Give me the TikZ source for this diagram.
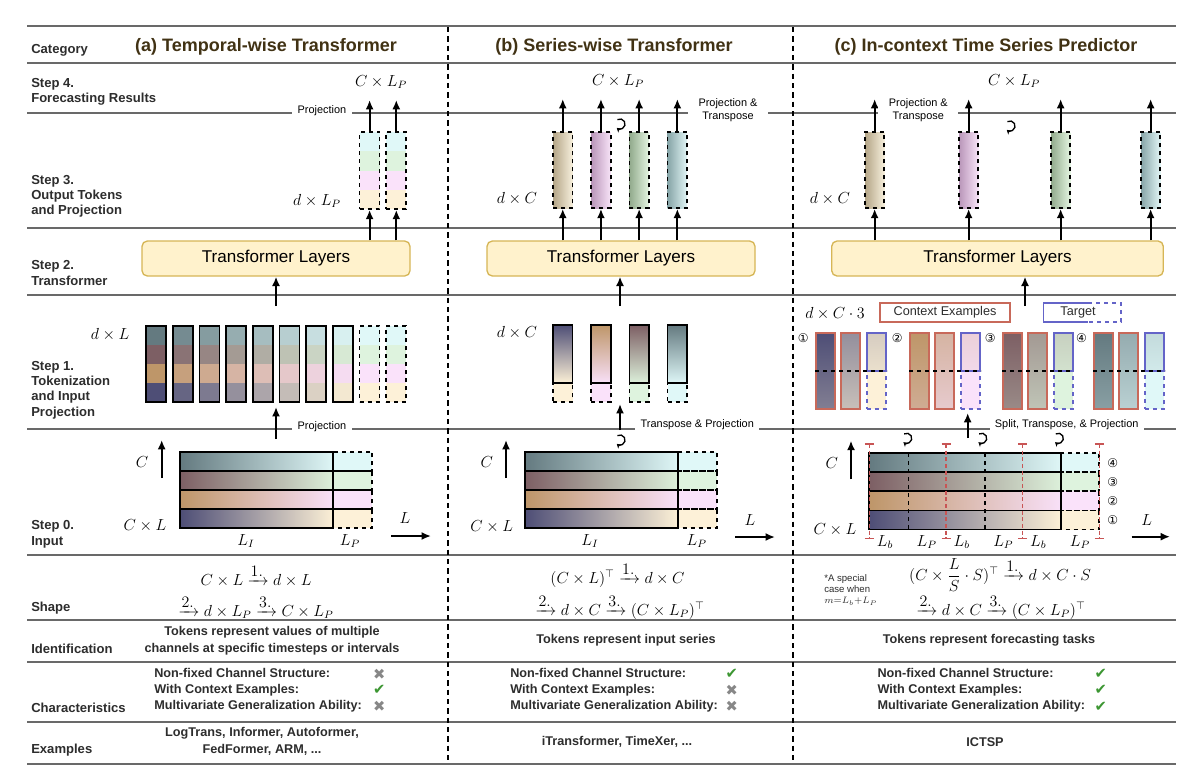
\documentclass[tikz,border=0pt]{standalone}
\usepackage{amsmath}
\usepackage{fontspec}
\setmainfont{Liberation Sans}
\newfontfamily\dejavu{DejaVu Sans}
\usetikzlibrary{arrows.meta,calc}
\definecolor{titlec}{RGB}{65,50,20}
\definecolor{labc}{RGB}{45,45,45}
\definecolor{rulec}{RGB}{105,105,105}
\definecolor{tfill}{RGB}{255,242,204}
\definecolor{tdraw}{RGB}{214,182,86}
\definecolor{aS}{RGB}{100,122,128}
\definecolor{aE}{RGB}{222,246,246}
\definecolor{bS}{RGB}{125,95,100}
\definecolor{bE}{RGB}{220,240,218}
\definecolor{cS}{RGB}{190,150,105}
\definecolor{cE}{RGB}{248,224,248}
\definecolor{dS}{RGB}{78,78,118}
\definecolor{dE}{RGB}{252,240,214}
\definecolor{aP}{RGB}{224,248,248}
\definecolor{bP}{RGB}{222,243,222}
\definecolor{cP}{RGB}{250,226,250}
\definecolor{dP}{RGB}{253,241,216}
\definecolor{o1S}{RGB}{180,165,135}
\definecolor{o1E}{RGB}{246,239,220}
\definecolor{o2S}{RGB}{185,150,185}
\definecolor{o2E}{RGB}{248,228,248}
\definecolor{o3S}{RGB}{145,170,140}
\definecolor{o3E}{RGB}{228,245,225}
\definecolor{o4S}{RGB}{135,165,168}
\definecolor{o4E}{RGB}{225,245,245}
\definecolor{ctxr}{RGB}{200,105,90}
\definecolor{tgtb}{RGB}{100,100,200}
\definecolor{redd}{RGB}{200,85,85}
\definecolor{chk}{RGB}{60,150,50}
\definecolor{crs}{RGB}{135,135,135}
\newcommand{\drawbar}[4]{%
  \shade[left color=aS,right color=aE] (#1,#4) rectangle (#2,#4+19.15);
  \shade[left color=bS,right color=bE] (#1,#4+19.15) rectangle (#2,#4+38.3);
  \shade[left color=cS,right color=cE] (#1,#4+38.3) rectangle (#2,#4+57.45);
  \shade[left color=dS,right color=dE] (#1,#4+57.45) rectangle (#2,#4+76.6);
  \fill[aP] (#2,#4) rectangle (#3,#4+19.15);
  \fill[bP] (#2,#4+19.15) rectangle (#3,#4+38.3);
  \fill[cP] (#2,#4+38.3) rectangle (#3,#4+57.45);
  \fill[dP] (#2,#4+57.45) rectangle (#3,#4+76.6);
  \foreach \k in {0,1,2,3}{%
    \draw[line width=1.3pt,dashed] (#2,#4+19.15*\k) rectangle (#3,#4+19.15*\k+19.15);
    \draw[line width=1.3pt] (#1,#4+19.15*\k) rectangle (#2,#4+19.15*\k+19.15);
  }%
}
\newcommand{\rotsym}[1]{\draw[line width=1pt,-{Stealth[length=3.2pt,width=4pt]}] (#1) ++(120:3.8pt) arc[start angle=120,end angle=-130,radius=3.8pt];}
\begin{document}
\begin{tikzpicture}[x=0.75pt,y=-0.75pt,
  rowlab/.style={font=\fontsize{9.8}{11.6}\selectfont\bfseries, text=labc, anchor=west, align=left, inner sep=0pt},
  title/.style={font=\fontsize{13.5}{16}\selectfont\bfseries, text=titlec},
  tfm/.style={draw=tdraw, fill=tfill, rounded corners=4pt, line width=1pt, font=\fontsize{12.8}{15}\selectfont, inner sep=0pt},
  smlab/.style={font=\fontsize{8.2}{9.8}\selectfont, fill=white, inner xsep=4pt, inner ysep=2.5pt, align=center},
  mathlab/.style={font=\fontsize{12}{13}\selectfont, inner sep=0pt},
  shapelab/.style={font=\fontsize{12}{14}\selectfont, inner sep=0pt},
  bodytxt/.style={font=\fontsize{9.5}{12.5}\selectfont\bfseries, text=labc, inner sep=0pt, align=center},
  chartxt/.style={font=\fontsize{9.5}{12.2}\selectfont\bfseries, text=labc, inner sep=0pt, align=left, anchor=west},
  chkmark/.style={font=\dejavu\fontsize{11}{12}\selectfont, inner sep=0pt},
  circnum/.style={font=\dejavu\fontsize{9}{11}\selectfont, inner sep=0pt},
  arr/.style={-{Latex[length=7pt,width=6pt]}, line width=1.4pt},
  rule/.style={draw=rulec, line width=1.2pt},
  sep/.style={dash pattern=on 4pt off 3pt, line width=1.1pt},
  tok/.style={draw, line width=1.3pt, inner sep=0pt},
  dtok/.style={tok, dashed},
  ctxcol/.style={draw=ctxr, line width=1.3pt, inner sep=0pt, minimum width=14.25pt, minimum height=57pt},
  tgttop/.style={draw=tgtb, line width=1.3pt, inner sep=0pt, minimum width=14.25pt, minimum height=28.5pt},
  tgtbot/.style={tgttop, dashed}]
\useasboundingbox (0,0) rectangle (1189,775);
\fill[white] (0,0) rectangle (1189,775);
% horizontal rules and column separators
\foreach \yy in {26,63,113,228,295,429,555,620,662,722,764}{\draw[rule] (27,\yy) -- (1176,\yy);}
\draw[sep] (448,27) -- (448,763);
\draw[sep] (793,27) -- (793,763);
% row labels
\node[rowlab] (lcat) at (31,50) {Category};
\node[rowlab] (l4) at (31,92) {Step 4.\\Forecasting Results};
\node[rowlab] (l3) at (31,196.3) {Step 3.\\Output Tokens\\and Projection};
\node[rowlab] (l2) at (31,273) {Step 2.\\Transformer};
\node[rowlab] (l1) at (31,390) {Step 1.\\Tokenization\\and Input\\Projection};
\node[rowlab] (l0) at (31,534.3) {Step 0.\\Input};
\node[rowlab] (lsh) at (31,607.7) {Shape};
\node[rowlab] (lid) at (31,649.3) {Identification};
\node[rowlab] (lch) at (31,708) {Characteristics};
\node[rowlab] (lex) at (31,750) {Examples};
% titles
\node[title] (ta) at (266,47) {(a) Temporal-wise Transformer};
\node[title] (tb) at (614,47) {(b) Series-wise Transformer};
\node[title] (tc) at (986,47) {(c) In-context Time Series Predictor};
% transformer boxes
\node[tfm, minimum width=201pt, minimum height=26.25pt] (tfa) at (276,258.5) {Transformer Layers};
\node[tfm, minimum width=201pt, minimum height=26.25pt] (tfb) at (621,258.5) {Transformer Layers};
\node[tfm, minimum width=248.7pt, minimum height=26.25pt] (tfc) at (997.5,258.5) {Transformer Layers};

% ================= (a) =================
\foreach \i in {0,...,7}{
  \pgfmathsetmacro\xl{146+26.7*\i}
  \pgfmathtruncatemacro\p{round(95*\i/7)}
  \fill[aE!\p!aS] (\xl,326) rectangle ++(20,19);
  \fill[bE!\p!bS] (\xl,345) rectangle ++(20,19);
  \fill[cE!\p!cS] (\xl,364) rectangle ++(20,19);
  \fill[dE!\p!dS] (\xl,383) rectangle ++(20,19);
  \node[tok, minimum width=15pt, minimum height=57pt] (sa\i) at (\xl+10,364) {};
}
\foreach \i in {8,9}{
  \pgfmathsetmacro\xl{146+26.7*\i}
  \fill[aP] (\xl,326) rectangle ++(20,19);
  \fill[bP] (\xl,345) rectangle ++(20,19);
  \fill[cP] (\xl,364) rectangle ++(20,19);
  \fill[dP] (\xl,383) rectangle ++(20,19);
  \node[dtok, minimum width=15pt, minimum height=57pt] (sa\i) at (\xl+10,364) {};
}
\foreach \i/\xl in {0/359.6,1/386.3}{
  \fill[aP] (\xl,132) rectangle ++(20,19.25);
  \fill[bP] (\xl,151.25) rectangle ++(20,19.25);
  \fill[cP] (\xl,170.5) rectangle ++(20,19.25);
  \fill[dP] (\xl,189.75) rectangle ++(20,19.25);
  \node[dtok, minimum width=15pt, minimum height=57.75pt] (oa\i) at (\xl+10,170.5) {};
  \coordinate (pa\i) at (\xl+10,100);
  \draw[arr] (oa\i.north) -- (pa\i);
  \draw[arr] (tfa.north -| oa\i) -- (oa\i.south);
}
\node[smlab] (proja1) at (322,111) {Projection};
\node[mathlab] (outa) at (381,82) {$C\times L_P$};
\node[mathlab] (dlpa) at (317,201) {$d\times L_P$};
\node[mathlab] (dla) at (110,335) {$d\times L$};
\coordinate (ina0) at (276,306);
\draw[arr] (ina0) -- (tfa.south);
\drawbar{180}{333.3}{372.3}{451.7}
\node[smlab] (proja0) at (322,427) {Projection};
\coordinate (ara0) at (276,439);
\coordinate (ara1) at (276,407);
\draw[arr] (ara0) -- (ara1);
\node[mathlab] (ca) at (142,462) {$C$};
\coordinate (cau0) at (161.7,478);
\coordinate (cau1) at (161.7,440);
\draw[arr] (cau0) -- (cau1);
\node[mathlab] (cla) at (145,526) {$C\times L$};
\node[mathlab] (lia) at (246,541) {$L_I$};
\node[mathlab] (lpa) at (350,541) {$L_P$};
\node[mathlab] (la) at (405,518) {$L$};
\coordinate (lar0) at (391,536);
\coordinate (lar1) at (431,536);
\draw[arr] (lar0) -- (lar1);

% ================= (b) =================
\foreach \j/\xl/\s in {1/553/d,2/591.2/c,3/629.4/b,4/667.6/a}{
  \shade[top color=\s S, bottom color=\s E] (\xl,325) rectangle (\xl+19.5,383);
  \fill[\s P] (\xl,383) rectangle (\xl+19.5,402);
  \node[tok, minimum width=14.6pt, minimum height=43.5pt] (sb\j) at (\xl+9.75,354) {};
  \node[dtok, minimum width=14.6pt, minimum height=14.25pt] (sbp\j) at (\xl+9.75,392.5) {};
}
\foreach \j/\xl in {1/553,2/591.2,3/629.4,4/667.6}{
  \shade[left color=o\j S, right color=o\j E] (\xl,132) rectangle (\xl+19.5,208);
  \node[dtok, minimum width=14.6pt, minimum height=57pt] (ob\j) at (\xl+9.75,170) {};
  \coordinate (pb\j) at (\xl+9.75,99);
  \draw[arr] (ob\j.north) -- (pb\j);
  \draw[arr] (tfb.north -| ob\j) -- (ob\j.south);
}
\node[smlab, inner xsep=8pt] (projb1) at (728,110) {Projection \&\\Transpose};
\node[mathlab] (outb) at (618,81) {$C\times L_P$};
\node[mathlab] (dcb3) at (517,199) {$d\times C$};
\node[mathlab] (dcb1) at (517,333) {$d\times C$};
\rotsym{620,124}
\coordinate (inb0) at (620,306);
\draw[arr] (inb0) -- (tfb.south -| inb0);
\drawbar{525}{677.7}{716.7}{451.7}
\node[smlab] (projb0) at (697.3,424.5) {Transpose \& Projection};
\coordinate (arb0) at (620,430);
\coordinate (arb1) at (620,404);
\draw[arr] (arb0) -- (arb1);
\rotsym{620,440}
\node[mathlab] (cb) at (486.7,462) {$C$};
\coordinate (cbu0) at (506,478);
\coordinate (cbu1) at (506,440);
\draw[arr] (cbu0) -- (cbu1);
\node[mathlab] (clb) at (491.7,527) {$C\times L$};
\node[mathlab] (lib) at (590,541) {$L_I$};
\node[mathlab] (lpb) at (696.7,541) {$L_P$};
\node[mathlab] (lb) at (750,520) {$L$};
\coordinate (lbr0) at (735,537);
\coordinate (lbr1) at (775,537);
\draw[arr] (lbr0) -- (lbr1);

% ================= (c) =================
\foreach \j/\xl in {1/865,2/959,3/1051,4/1141}{
  \shade[left color=o\j S, right color=o\j E] (\xl,132) rectangle (\xl+19.3,208);
  \node[dtok, minimum width=14.5pt, minimum height=57pt] (oc\j) at (\xl+9.65,170) {};
  \coordinate (pc\j) at (\xl+9.65,99);
  \draw[arr] (oc\j.north) -- (pc\j);
  \draw[arr] (tfc.north -| oc\j) -- (oc\j.south);
}
\node[smlab, inner xsep=8pt] (projc1) at (918.3,110) {Projection \&\\Transpose};
\node[mathlab] (outc) at (1014,81) {$C\times L_P$};
\node[mathlab] (dcc3) at (830,199) {$d\times C$};
\rotsym{1010,126}
\coordinate (inc0) at (1025,306);
\draw[arr] (inc0) -- (tfc.south -| inc0);
% step 1 (c)
\node[mathlab] (dcc1) at (835,314) {$d\times C\cdot 3$};
\node[draw=ctxr, line width=1.2pt, minimum width=97.5pt, minimum height=14.25pt, inner sep=0pt, font=\fontsize{9.5}{11}\selectfont, text=labc] (ctx) at (945,312.5) {Context Examples};
\node[inner sep=0pt, font=\fontsize{9.5}{11}\selectfont, text=labc] (tgt) at (1078,312) {Target};
\draw[tgtb, line width=1.2pt] (1088.3,303) -- (1043.3,303) -- (1043.3,322) -- (1088.3,322);
\draw[tgtb, line width=1.2pt, dashed] (1088.3,303) -- (1121,303) -- (1121,322) -- (1088.3,322);
\foreach \g/\G/\s/\n in {1/816/d/①,2/910/c/②,3/1003/b/③,4/1094.3/a/④}{
  \node[circnum] (cn\g) at (\G-12.7,338.5) {\n};
  \shade[top color=\s S, bottom color=\s E!30!\s S] (\G,333) rectangle (\G+19,409);
  \shade[top color=\s E!40!\s S, bottom color=\s E!70!\s S] (\G+25,333) rectangle (\G+44,409);
  \shade[top color=\s E!78!\s S, bottom color=\s E!90!\s S] (\G+50.7,333) rectangle (\G+69.7,371);
  \fill[\s P] (\G+50.7,371) rectangle (\G+69.7,409);
  \node[ctxcol] (cg\g a) at (\G+9.5,371) {};
  \node[ctxcol] (cg\g b) at (\G+34.5,371) {};
  \node[tgttop] (cg\g t) at (\G+60.2,352) {};
  \node[tgtbot] (cg\g p) at (\G+60.2,390) {};
  \draw[dashed, line width=0.8pt] (\G-1,371) -- (\G+71,371);
}
\node[smlab] (projc0) at (1066.7,424.5) {Split, Transpose, \& Projection};
\coordinate (arc0) at (967.7,438);
\coordinate (arc1) at (967.7,413);
\draw[arr] (arc0) -- (arc1);
% step 0 (c)
\drawbar{869.3}{1060.7}{1099.3}{453}
\draw[dashed, line width=0.8pt] (908.3,453) -- (908.3,529.6);
\draw[dashed, line width=0.8pt] (985,453) -- (985,529.6);
\foreach \xx in {869.3,946,1022.7,1099.3}{
  \draw[redd, line width=1.1pt, dash pattern=on 3pt off 2pt] (\xx,444) -- (\xx,538.5);
  \draw[redd, line width=1.1pt] (\xx-4.5,444) -- (\xx+4.5,444);
  \draw[redd, line width=1.1pt] (\xx-4.5,538.5) -- (\xx+4.5,538.5);
}
\rotsym{906.7,438.3}
\rotsym{981.7,438.3}
\rotsym{1058.3,438.3}
\node[circnum] (rn4) at (1112.7,462.7) {④};
\node[circnum] (rn3) at (1112.7,481.7) {③};
\node[circnum] (rn2) at (1112.7,501) {②};
\node[circnum] (rn1) at (1112.7,520) {①};
\node[mathlab] (cc) at (831.7,463.3) {$C$};
\coordinate (ccu0) at (851,479.3);
\coordinate (ccu1) at (851,440.7);
\draw[arr] (ccu0) -- (ccu1);
\node[mathlab] (clc) at (835,530) {$C\times L$};
\node[mathlab] (lc) at (1146.7,520) {$L$};
\coordinate (lcr0) at (1131.7,536.7);
\coordinate (lcr1) at (1170,536.7);
\draw[arr] (lcr0) -- (lcr1);
\foreach \xx/\t/\nm in {885/b/lb1,926.7/P/lp1,961.7/b/lb2,1003.3/P/lp2,1038.3/b/lb3,1080/P/lp3}{
  \node[mathlab] (\nm) at (\xx,542) {$L_\t$};
}

% ================= Shape row =================
\node[shapelab] (sha1) at (256,576) {$C\times L \xrightarrow{\textstyle 1.} d\times L$};
\node[shapelab] (sha2) at (256,607) {$\xrightarrow{\textstyle 2.} d\times L_P \xrightarrow{\textstyle 3.} C\times L_P$};
\node[shapelab] (shb1) at (617.5,575) {$(C\times L)^{\top} \xrightarrow{\textstyle 1.} d\times C$};
\node[shapelab] (shb2) at (620,607) {$\xrightarrow{\textstyle 2.} d\times C \xrightarrow{\textstyle 3.} (C\times L_P)^{\top}$};
\node[shapelab] (shc1) at (1000,575) {$(C\times \dfrac{L}{S}\cdot S)^{\top} \xrightarrow{\textstyle 1.} d\times C\cdot S$};
\node[shapelab] (shc2) at (1001,607) {$\xrightarrow{\textstyle 2.} d\times C \xrightarrow{\textstyle 3.} (C\times L_P)^{\top}$};
\node[anchor=west, align=left, inner sep=0pt, font=\fontsize{7.2}{8.3}\selectfont, text=labc] (note) at (824,590) {*A special\\case when\\$m{=}L_b{+}L_P$};

% ================= Identification =================
\node[bodytxt] (ida) at (272,641) {Tokens represent values of multiple\\channels at specific timesteps or intervals};
\node[bodytxt] (idb) at (626,640) {Tokens represent input series};
\node[bodytxt] (idc) at (989,640) {Tokens represent forecasting tasks};

% ================= Characteristics =================
\node[chartxt] (cha) at (154,690.3) {Non-fixed Channel Structure:\\With Context Examples:\\Multivariate Generalization Ability:};
\node[chartxt] (chb) at (510,690.3) {Non-fixed Channel Structure:\\With Context Examples:\\Multivariate Generalization Ability:};
\node[chartxt] (chc) at (877.3,690.3) {Non-fixed Channel Structure:\\With Context Examples:\\Multivariate Generalization Ability:};
\node[chkmark, text=crs] (ma1) at (379.3,674.3) {✖};
\node[chkmark, text=chk] (ma2) at (379.3,690.3) {✔};
\node[chkmark, text=crs] (ma3) at (379.3,706.7) {✖};
\node[chkmark, text=chk] (mb1) at (731.7,674.3) {✔};
\node[chkmark, text=crs] (mb2) at (731.7,690.3) {✖};
\node[chkmark, text=crs] (mb3) at (731.7,706.7) {✖};
\node[chkmark, text=chk] (mc1) at (1100.7,674.3) {✔};
\node[chkmark, text=chk] (mc2) at (1100.7,690.3) {✔};
\node[chkmark, text=chk] (mc3) at (1100.7,706.7) {✔};

% ================= Examples =================
\node[bodytxt] (exa) at (262,741.5) {LogTrans, Informer, Autoformer,\\FedFormer, ARM, ...};
\node[bodytxt] (exb) at (617,741.7) {iTransformer, TimeXer, ...};
\node[bodytxt] (exc) at (985,741.7) {ICTSP};
\end{tikzpicture}
\end{document}
